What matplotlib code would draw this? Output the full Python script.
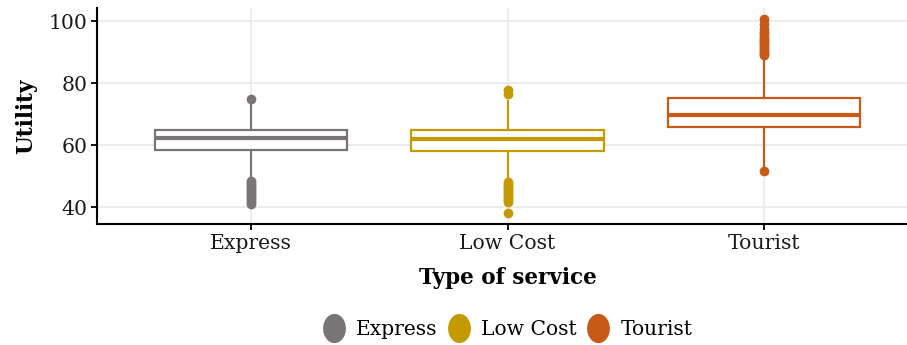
"""Boxplot of utility by type of service."""

import matplotlib

matplotlib.use("Agg")
import matplotlib.pyplot as plt
import numpy as np
from matplotlib.lines import Line2D
from matplotlib.path import Path

plt.rcParams["font.family"] = ["DejaVu Serif"]

services = ["Express", "Low Cost", "Tourist"]
colors = ["#7a7575", "#c59a00", "#c75a17"]

q1 = [58.5, 58.0, 65.9]
median = [62.3, 61.9, 69.8]
q3 = [64.9, 64.9, 75.1]
whisker_low = [49.4, 49.0, 52.9]
whisker_high = [73.9, 74.3, 88.3]

outliers_express = [41.2, 41.8, 42.4, 43.0, 43.6, 44.2, 44.8, 45.4,
                    46.0, 46.6, 47.2, 47.8, 48.4, 75.0]
outliers_lowcost = [38.0, 41.6, 42.2, 42.8, 43.4, 44.0, 44.6, 45.2,
                    45.8, 46.4, 47.0, 47.6, 48.2, 76.6, 78.0]
outliers_tourist = [51.7, 89.0, 89.6, 90.2, 90.8, 91.4, 92.0, 92.6,
                    93.2, 93.8, 94.4, 95.0, 95.8, 96.6, 97.4, 99.0, 100.6]
outliers = [outliers_express, outliers_lowcost, outliers_tourist]

fig = plt.figure(figsize=(9.07, 3.45), dpi=100)
ax = fig.add_axes([97 / 907, 1 - 224 / 345, (918 - 97) / 907, (224 - 8) / 345])

for i, name in enumerate(services):
    stats = [{
        "med": median[i], "q1": q1[i], "q3": q3[i],
        "whislo": whisker_low[i], "whishi": whisker_high[i],
        "fliers": outliers[i], "label": name,
    }]
    c = colors[i]
    ax.bxp(
        stats, positions=[i + 1], widths=0.75, showcaps=False,
        patch_artist=True,
        boxprops=dict(facecolor="white", edgecolor=c, linewidth=1.6),
        medianprops=dict(color=c, linewidth=3, solid_capstyle="butt"),
        whiskerprops=dict(color=c, linewidth=1.6),
        flierprops=dict(marker="o", markerfacecolor=c, markeredgecolor=c,
                        markersize=6),
    )

ax.set_xlim(0.4, 3.6)
ax.set_ylim(34.6, 104.3)
ax.set_xticks([1, 2, 3])
ax.set_xticklabels(services)
ax.set_yticks([40, 60, 80, 100])

ax.grid(True, color="#ebebeb", linewidth=1.3)
ax.set_axisbelow(True)
for side in ["top", "right"]:
    ax.spines[side].set_visible(False)
for side in ["left", "bottom"]:
    ax.spines[side].set_linewidth(1.5)
    ax.spines[side].set_color("black")
ax.tick_params(direction="out", length=4, width=1.3, colors="black",
               labelsize=14.7, labelcolor="#1a1a1a", pad=3)

ax.set_xlabel("Type of service", fontsize=15.5, fontweight="bold", labelpad=10)
ax.set_ylabel("Utility", fontsize=15.5, fontweight="bold", labelpad=8)

# legend key: a tall rounded blob, like ggplot's boxplot key
theta = np.linspace(0, 2 * np.pi, 60)
blob = Path(np.column_stack([np.cos(theta), 1.3 * np.sin(theta)]))
handles = [Line2D([], [], linestyle="none", marker=blob, markersize=20,
                  markerfacecolor=c, markeredgecolor=c) for c in colors]
ax.legend(handles, services, loc="center", bbox_to_anchor=(0.5, -0.49),
          ncol=3, frameon=False, fontsize=14.6, handletextpad=0.55,
          columnspacing=0.5, handlelength=1.1)

fig.savefig("out.png", dpi=100)
